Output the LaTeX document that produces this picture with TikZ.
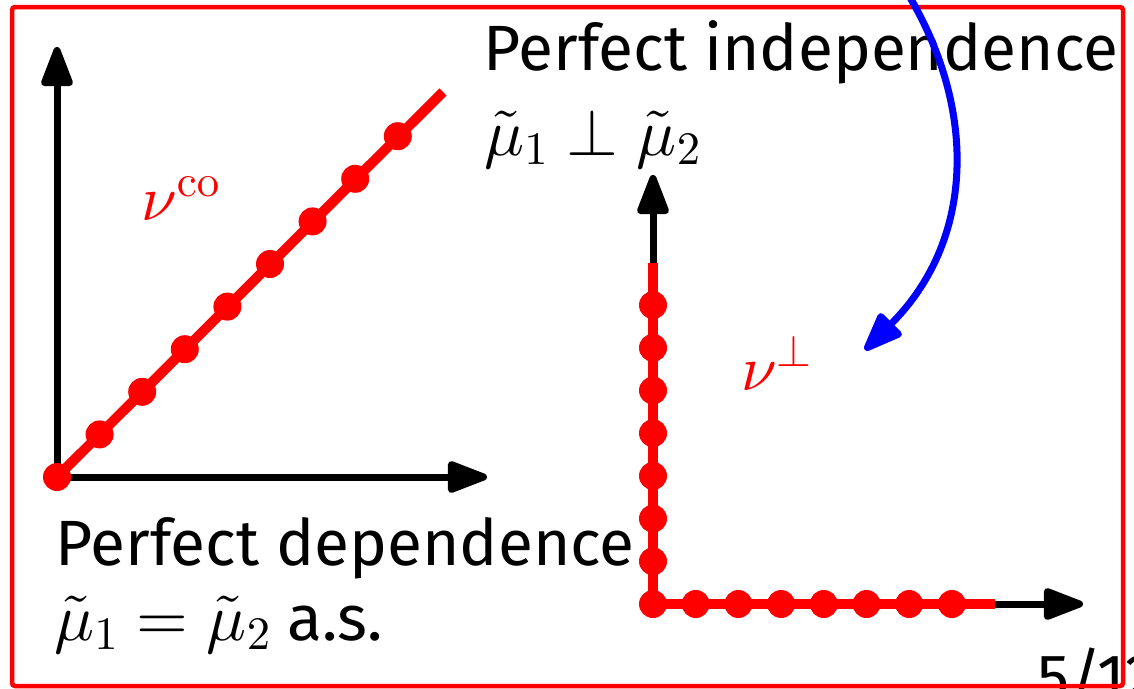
\documentclass[tikz,border=0pt]{standalone}
\usepackage[no-math]{fontspec}
\setmainfont{Fira Sans}
\DeclareFontFamily{OML}{cmm}{\skewchar\font'177}
\DeclareFontShape{OML}{cmm}{m}{it}{<->cmmi10}{}
\DeclareFontFamily{OMS}{cmsy}{\skewchar\font'60}
\DeclareFontShape{OMS}{cmsy}{m}{n}{<->cmsy10}{}
\DeclareFontFamily{OT1}{cmr}{\hyphenchar\font45}
\DeclareFontShape{OT1}{cmr}{m}{n}{<->cmr10}{}
\DeclareFontFamily{OMX}{cmex}{}
\DeclareFontShape{OMX}{cmex}{m}{n}{<->cmex10}{}
\usetikzlibrary{arrows.meta}
\newcommand{\bigmath}[1]{{\fontsize{66.5}{72}\selectfont$#1$}}
\begin{document}
\begin{tikzpicture}[x=1pt,y=-1pt,
  axis/.style={line width=7pt,-{Triangle[length=46pt,width=33pt,round]}},
  redline/.style={red,line width=10pt},
  dot/.style={circle,fill=red,inner sep=0pt,minimum size=28pt},
  lbl/.style={inner sep=0pt,anchor=base west,font=\fontsize{64}{72}\selectfont},
  ]
\useasboundingbox (0,0) rectangle (1134,688);
\clip (0,0) rectangle (1134,688);
\node[lbl] (page) at (1037,699) {5/12};
\draw[red,line width=4.5pt,rounded corners=3pt] (12,7) rectangle (1123,686);
% left plot
\coordinate (O1) at (57,477);
\coordinate (Y1) at (57,47);
\coordinate (X1) at (487,477);
\coordinate (E1) at (443,92);
\draw[axis] (O1) -- (Y1);
\draw[axis] (O1) -- (X1);
\draw[redline] (O1) -- (E1);
\foreach \i in {0,...,8} \node[dot] (a\i) at ({57+42.6*\i},{477-42.6*\i}) {};
\node[lbl,red] (nuco) at (141,220) {$\nu^{\mathrm{co}}$};
% right plot
\coordinate (O2) at (653,604);
\coordinate (Y2) at (653,175);
\coordinate (X2) at (1083,604);
\coordinate (V2) at (653,263);
\coordinate (H2) at (995,604);
\draw[axis] (O2) -- (Y2);
\draw[axis] (O2) -- (X2);
\draw[redline] (O2) -- (V2);
\draw[redline] (O2) -- (H2);
\foreach \i in {0,...,7} \node[dot] (v\i) at (653,{604-42.7*\i}) {};
\foreach \i in {1,...,7} \node[dot] (h\i) at ({653+42.7*\i},604) {};
\node[lbl,red] (nuperp) at (741,390) {$\nu^{\perp}$};
% texts
\node[lbl] (indep) at (483,70) {Perfect independence};
\node[lbl] (indepm) at (484,155) {\bigmath{\tilde\mu_1\perp\tilde\mu_2}};
\node[lbl] (dep) at (55,565) {Perfect dependence};
\node[lbl] (depm) at (54,640) {\bigmath{\tilde\mu_1=\tilde\mu_2} a.s.};
% blue arrow
\coordinate (bs) at (885,-40);
\coordinate (bt) at (865,350);
\draw[blue,line width=7pt,-{Triangle[length=45pt,width=33pt,round]}] (bs) .. controls (975,80) and (985,230) .. (bt);
\end{tikzpicture}
\end{document}
